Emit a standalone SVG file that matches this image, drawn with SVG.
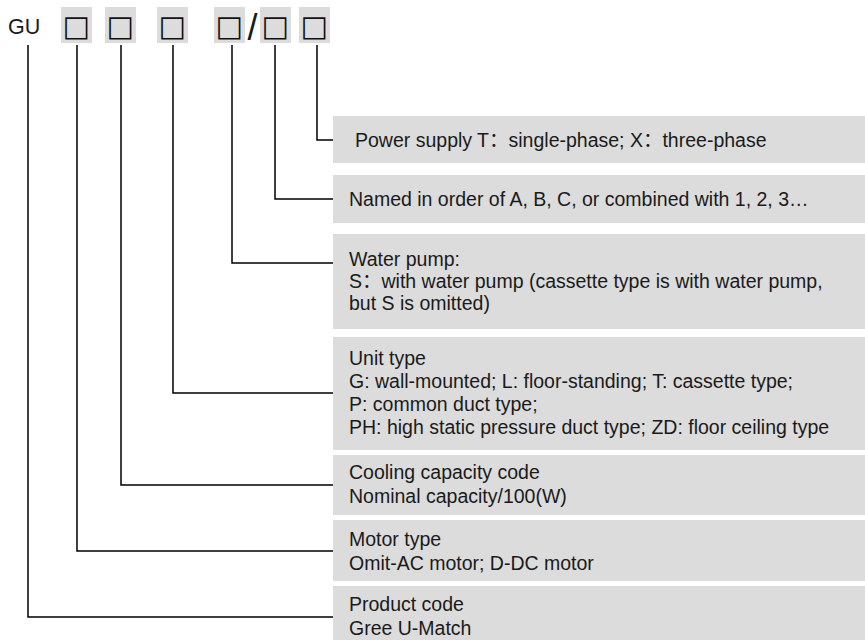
<svg xmlns="http://www.w3.org/2000/svg" width="865" height="640" viewBox="0 0 865 640">
<style>
.bg{fill:#dcdcdc}
.t{font-family:"Liberation Sans","Noto Sans CJK SC",Arial,sans-serif;font-size:19.5px;fill:#1a1a1a}
.sq{font-family:"DejaVu Sans",sans-serif;font-size:29px;fill:#111}
.c{fill:none;stroke:#000;stroke-width:1.5}
</style>
<rect width="865" height="640" fill="#fff"/>
<g id="code">
<text class="t" x="8" y="34" style="font-size:21.5px">GU</text>
<rect class="bg" x="61" y="7" width="31" height="36"/>
<rect class="bg" x="105" y="7" width="31" height="36"/>
<rect class="bg" x="157" y="7" width="31" height="36"/>
<rect class="bg" x="214" y="7" width="31" height="36"/>
<rect class="bg" x="260" y="7" width="31" height="36"/>
<rect class="bg" x="299" y="7" width="31" height="36"/>
<text class="sq" x="76.5" y="36" text-anchor="middle">□</text>
<text class="sq" x="120.5" y="36" text-anchor="middle">□</text>
<text class="sq" x="172.5" y="36" text-anchor="middle">□</text>
<text class="sq" x="229.5" y="36" text-anchor="middle">□</text>
<text class="sq" x="275.5" y="36" text-anchor="middle">□</text>
<text class="sq" x="314.5" y="36" text-anchor="middle">□</text>
<text class="t" x="252.5" y="40" text-anchor="middle" style="font-size:36px">/</text>
</g>
<g id="connectors">
<polyline class="c" points="317,45 317,140 333,140"/>
<polyline class="c" points="275,45 275,199 333,199"/>
<polyline class="c" points="232,45 232,263 333,263"/>
<polyline class="c" points="173,45 173,393 333,393"/>
<polyline class="c" points="121,45 121,485 333,485"/>
<polyline class="c" points="77,45 77,551 333,551"/>
<polyline class="c" points="28,45 28,617 333,617"/>
</g>
<g id="power">
<rect class="bg" x="333" y="116" width="532" height="47"/>
<text class="t" x="355" y="147">Power supply T：single-phase; X：three-phase</text>
</g>
<g id="named">
<rect class="bg" x="333" y="175" width="532" height="48"/>
<text class="t" x="349" y="206">Named in order of A, B, C, or combined with 1, 2, 3…</text>
</g>
<g id="pump">
<rect class="bg" x="333" y="234" width="532" height="95"/>
<text class="t" x="349" y="266">Water pump:</text>
<text class="t" x="349" y="288">S：with water pump (cassette type is with water pump,</text>
<text class="t" x="349" y="310">but S is omitted)</text>
</g>
<g id="unit">
<rect class="bg" x="333" y="337" width="532" height="113"/>
<text class="t" x="349" y="365">Unit type</text>
<text class="t" x="349" y="388">G: wall-mounted; L: floor-standing; T: cassette type;</text>
<text class="t" x="349" y="411">P: common duct type;</text>
<text class="t" x="349" y="434">PH: high static pressure duct type; ZD: floor ceiling type</text>
</g>
<g id="cooling">
<rect class="bg" x="333" y="455" width="532" height="60"/>
<text class="t" x="349" y="479">Cooling capacity code</text>
<text class="t" x="349" y="503">Nominal capacity/100(W)</text>
</g>
<g id="motor">
<rect class="bg" x="333" y="520" width="532" height="61"/>
<text class="t" x="349" y="546">Motor type</text>
<text class="t" x="349" y="570">Omit-AC motor; D-DC motor</text>
</g>
<g id="product">
<rect class="bg" x="333" y="586" width="532" height="54"/>
<text class="t" x="349" y="611">Product code</text>
<text class="t" x="349" y="635">Gree U-Match</text>
</g>
</svg>
